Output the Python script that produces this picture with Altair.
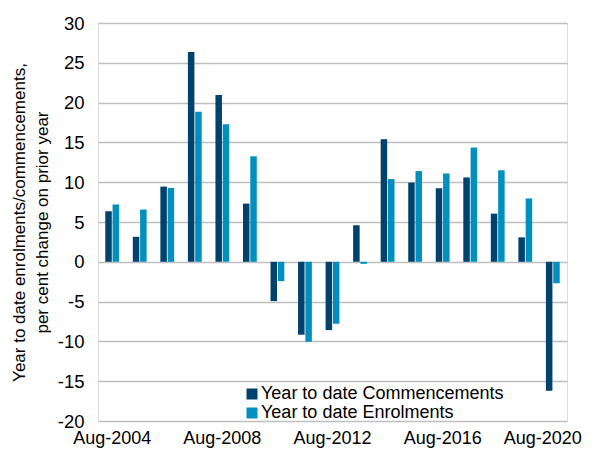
import altair as alt
import pandas as pd

years = [f"Aug-{y}" for y in range(2004, 2021)]
commencements = [6.35, 3.14, 9.45, 26.35, 20.95, 7.31, -4.94, -9.16, -8.58, 4.6,
                 15.4, 9.95, 9.24, 10.6, 6.05, 3.07, -16.2]
enrolments = [7.19, 6.56, 9.28, 18.86, 17.27, 13.25, -2.43, -10.04, -7.78, -0.25,
              10.4, 11.4, 11.1, 14.35, 11.5, 7.96, -2.7]
series = ["Year to date Commencements", "Year to date Enrolments"]
colors = ["#00426E", "#0090BF"]
shown_labels = ["Aug-2004", "Aug-2008", "Aug-2012", "Aug-2016", "Aug-2020"]

rows = []
for i, yr in enumerate(years):
    rows.append({"period": yr, "series": series[0], "value": commencements[i]})
    rows.append({"period": yr, "series": series[1], "value": enrolments[i]})
df = pd.DataFrame(rows)

font = "Liberation Sans"

chart = alt.Chart(df).mark_bar(size=6.5).encode(
    x=alt.X("period:N", sort=years,
            scale=alt.Scale(paddingInner=0.47, paddingOuter=0.25),
            axis=alt.Axis(values=shown_labels, title=None, labelAngle=0,
                          labelFontSize=18, labelColor="#000000", ticks=False,
                          domain=False, grid=False, labelPadding=8, labelFont=font,
                          labelOverlap=False, labelBound=False,
                          labelOffset={"condition": {"test": "datum.value == 'Aug-2020'",
                                                     "value": -10},
                                       "value": 0})),
    xOffset=alt.XOffset("series:N", sort=series),
    y=alt.Y("value:Q",
            scale=alt.Scale(domain=[-20, 30], nice=False, zero=False),
            axis=alt.Axis(values=list(range(-20, 31, 5)),
                          labelExpr="datum.value < 0 ? '-' + abs(datum.value) : '' + datum.value",
                          title=["Year to date enrolments/commencements,",
                                 "per cent change on prior year"],
                          titleFontSize=17, titleFont=font, titleFontWeight="normal",
                          titleColor="#000000", titlePadding=6, titleLineHeight=23,
                          labelFontSize=18.5, labelFont=font, labelColor="#000000",
                          ticks=False, domain=False, labelPadding=14,
                          grid=True, gridColor="#BFBFBF", gridWidth=1.6)),
    color=alt.Color("series:N", sort=series,
                    scale=alt.Scale(domain=series, range=colors),
                    legend=alt.Legend(title=None, orient="none", legendX=145,
                                      legendY=362, symbolType="square",
                                      symbolSize=121, symbolStrokeWidth=0,
                                      labelFontSize=18, labelFont=font,
                                      labelColor="#000000", rowPadding=1,
                                      labelOffset=0, labelLimit=500)),
).properties(
    width=469, height=398,
    autosize=alt.AutoSizeParams(type="none"),
    padding={"left": 90, "top": 15, "right": 20, "bottom": 31},
).configure_view(strokeWidth=0).configure(background="#FFFFFF")

chart.save("out.html", embed_options={"renderer": "svg", "actions": False})
